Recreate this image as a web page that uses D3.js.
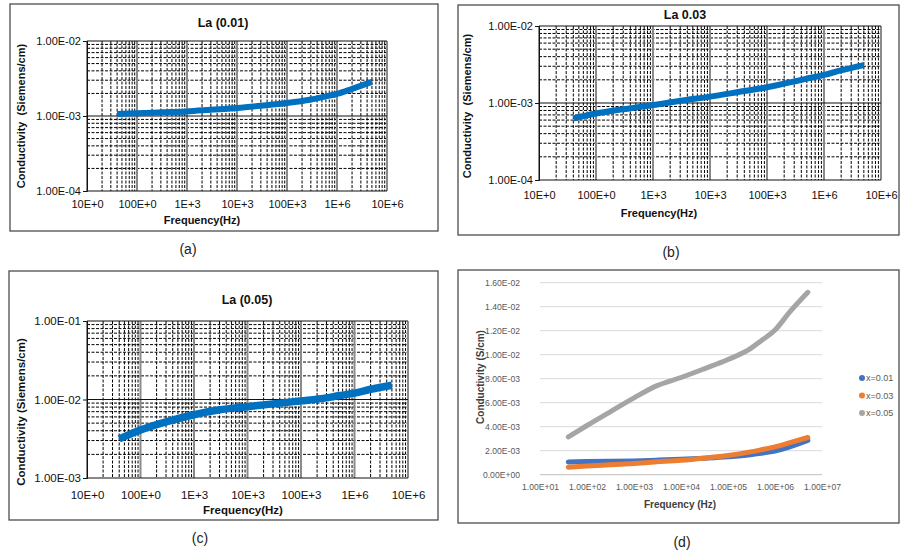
<!DOCTYPE html>
<html>
<head>
<meta charset="utf-8">
<script src="https://cdn.jsdelivr.net/npm/d3@7"></script>
<style>
  body { margin: 0; background: #fff; }
  text { font-family: "Liberation Sans", Arial, sans-serif; }
</style>
</head>
<body>
<div id="chart"></div>
<script>
// frequency points (Hz)
const freq = [40, 100, 300, 1e3, 3e3, 1e4, 3e4, 1e5, 3e5, 5e5, 1e6, 2e6, 5e6];
// conductivity (S/cm) for each La content
const sigma001 = [1.06e-3, 1.09e-3, 1.12e-3, 1.15e-3, 1.21e-3, 1.28e-3, 1.37e-3, 1.49e-3, 1.66e-3, 1.78e-3, 1.97e-3, 2.3e-3, 2.85e-3];
const sigma003 = [6.3e-4, 7.3e-4, 8.3e-4, 9.4e-4, 1.07e-3, 1.21e-3, 1.38e-3, 1.6e-3, 1.9e-3, 2.07e-3, 2.32e-3, 2.65e-3, 3.1e-3];
const sigma005 = [3.15e-3, 4.1e-3, 5.2e-3, 6.4e-3, 7.4e-3, 8.1e-3, 8.8e-3, 9.6e-3, 10.5e-3, 11.15e-3, 12.05e-3, 13.5e-3, 15.2e-3];

const logXTicks = [1e1, 1e2, 1e3, 1e4, 1e5, 1e6, 1e7];
const logXLabels = ['10E+0', '100E+0', '1E+3', '10E+3', '100E+3', '1E+6', '10E+6'];
const dXLabels = ['1.00E+01', '1.00E+02', '1.00E+03', '1.00E+04', '1.00E+05', '1.00E+06', '1.00E+07'];
const dYTicks = [0, 0.002, 0.004, 0.006, 0.008, 0.010, 0.012, 0.014, 0.016];
const legendLabels = ['x=0.01', 'x=0.03', 'x=0.05'];
const dColors = ['#4472C4', '#ED7D31', '#A5A5A5'];

const svg = d3.select('#chart').append('svg')
    .attr('width', 900)
    .attr('height', 553);

// E-notation like Excel: 1.00E-02
function sci(d) {
    let [m, e] = d.toExponential(2).toUpperCase().split('E');
    let sign = e[0] === '-' ? '-' : '+';
    let n = Math.abs(+e);
    return m + 'E' + sign + (n < 10 ? '0' + n : n);
}

function isDecade(d) {
    let l = Math.log10(d);
    return Math.abs(l - Math.round(l)) < 1e-9;
}

// panel frames
const frames = [
    {x: 10, y: 4, w: 428, h: 227, label: '(a)', lx: 188, ly: 249},
    {x: 458, y: 5, w: 441, h: 230, label: '(b)', lx: 671, ly: 252},
    {x: 9, y: 271, w: 429, h: 249, label: '(c)', lx: 200, ly: 538},
    {x: 458, y: 270, w: 441, h: 253, label: '(d)', lx: 682, ly: 542}
];
frames.forEach(f => {
    svg.append('rect')
        .attr('x', f.x).attr('y', f.y)
        .attr('width', f.w).attr('height', f.h)
        .attr('fill', 'none')
        .attr('stroke', '#4d4d4d')
        .attr('stroke-width', 1.3);
    svg.append('text')
        .attr('x', f.lx).attr('y', f.ly)
        .attr('text-anchor', 'middle')
        .attr('dominant-baseline', 'central')
        .attr('font-size', 14)
        .attr('fill', '#222')
        .text(f.label);
});

function logPanel(p) {
    const x = d3.scaleLog().domain([10, 1e7]).range([p.x0, p.x1]);
    const y = d3.scaleLog().domain(p.yDomain).range([p.y1, p.y0]);
    const g = svg.append('g');

    const xt = x.ticks();
    const yt = y.ticks();

    // minor grid
    g.selectAll('.vmin').data(xt.filter(d => !isDecade(d))).join('line')
        .attr('x1', d => x(d)).attr('x2', d => x(d))
        .attr('y1', p.y0).attr('y2', p.y1)
        .attr('stroke', '#000').attr('stroke-width', 1)
        .attr('stroke-dasharray', '3,1.5');
    g.selectAll('.hmin').data(yt.filter(d => !isDecade(d))).join('line')
        .attr('x1', p.x0).attr('x2', p.x1)
        .attr('y1', d => y(d)).attr('y2', d => y(d))
        .attr('stroke', '#000').attr('stroke-width', 1)
        .attr('stroke-dasharray', '3,1.5');
    // major grid
    g.selectAll('.vmaj').data(xt.filter(isDecade)).join('line')
        .attr('x1', d => x(d)).attr('x2', d => x(d))
        .attr('y1', p.y0).attr('y2', p.y1)
        .attr('stroke', '#8a8a8a').attr('stroke-width', 2);
    g.selectAll('.hmaj').data(yt.filter(isDecade)).join('line')
        .attr('x1', p.x0).attr('x2', p.x1)
        .attr('y1', d => y(d)).attr('y2', d => y(d))
        .attr('stroke', '#111').attr('stroke-width', 1.2);

    // y axis
    const ya = g.append('g')
        .attr('transform', `translate(${p.x0},0)`)
        .call(d3.axisLeft(y).tickValues(yt.filter(isDecade)).tickFormat(sci).tickSize(4).tickPadding(2));
    ya.select('.domain').attr('stroke', '#111');
    ya.selectAll('line').attr('stroke', '#111');
    ya.selectAll('text').attr('font-size', p.fs).attr('fill', '#111')
        .attr('font-family', '"Liberation Sans", Arial, sans-serif');

    // x labels
    const xa = g.append('g')
        .attr('transform', `translate(0,${p.labelY})`)
        .call(d3.axisBottom(x).tickValues(logXTicks).tickFormat((d, i) => logXLabels[i]).tickSize(0));
    xa.select('.domain').remove();
    xa.selectAll('text').attr('y', 0).attr('dy', '0.35em')
        .attr('font-size', p.fs).attr('fill', '#111')
        .attr('font-family', '"Liberation Sans", Arial, sans-serif');

    // curve
    const line = d3.line()
        .x((d, i) => x(freq[i]))
        .y(d => y(d))
        .curve(d3.curveMonotoneX);
    g.append('path')
        .datum(p.values)
        .attr('d', line)
        .attr('fill', 'none')
        .attr('stroke', '#0070C0')
        .attr('stroke-width', p.lw);

    // titles
    g.append('text')
        .attr('x', p.title[1]).attr('y', p.title[2])
        .attr('text-anchor', 'middle').attr('dominant-baseline', 'central')
        .attr('font-size', 12.5).attr('font-weight', 'bold').attr('fill', '#111')
        .text(p.title[0]);
    g.append('text')
        .attr('x', p.xTitle[0]).attr('y', p.xTitle[1])
        .attr('text-anchor', 'middle').attr('dominant-baseline', 'central')
        .attr('font-size', p.fs).attr('font-weight', 'bold').attr('fill', '#111')
        .text('Frequency(Hz)');
    g.append('text')
        .attr('transform', `translate(${p.yTitle[0]},${p.yTitle[1]}) rotate(-90)`)
        .attr('text-anchor', 'middle').attr('dominant-baseline', 'central')
        .attr('font-size', p.fs).attr('font-weight', 'bold').attr('fill', '#111')
        .style('white-space', 'pre')
        .text(p.yText);
}

logPanel({
    x0: 87, x1: 387, y0: 41, y1: 191, yDomain: [1e-4, 1e-2],
    values: sigma001, lw: 6, fs: 11, labelY: 204,
    title: ['La (0.01)', 223, 23], xTitle: [202, 220], yTitle: [21, 116],
    yText: 'Conductivity  (Siemens/cm)'
});
logPanel({
    x0: 539, x1: 881, y0: 26, y1: 180, yDomain: [1e-4, 1e-2],
    values: sigma003, lw: 6, fs: 11, labelY: 195,
    title: ['La 0.03', 685, 15], xTitle: [659, 213], yTitle: [467, 106],
    yText: 'Conductivity  (Siemens/cm)'
});
logPanel({
    x0: 87, x1: 408, y0: 321, y1: 478, yDomain: [1e-3, 1e-1],
    values: sigma005, lw: 7.5, fs: 11.5, labelY: 495,
    title: ['La (0.05)', 247, 300], xTitle: [243, 510], yTitle: [21, 412],
    yText: 'Conductivity (Siemens/cm)'
});

// panel (d): all three compositions, linear conductivity
const dx = d3.scaleLog().domain([10, 1e7]).range([540, 822]);
const dy = d3.scaleLinear().domain([0, 0.016]).range([474.7, 282.7]);
const gd = svg.append('g');

gd.selectAll('.grid').data(dYTicks).join('line')
    .attr('x1', 540).attr('x2', 822)
    .attr('y1', d => dy(d)).attr('y2', d => dy(d))
    .attr('stroke', d => d === 0 ? '#bfbfbf' : '#d9d9d9')
    .attr('stroke-width', 1);

const dya = gd.append('g')
    .attr('transform', 'translate(540,0)')
    .call(d3.axisLeft(dy).tickValues(dYTicks).tickFormat(sci).tickSize(0).tickPadding(20));
dya.select('.domain').remove();
dya.selectAll('text').attr('font-size', 8.6).attr('fill', '#595959')
    .attr('font-family', '"Open Sans", sans-serif');

const dxa = gd.append('g')
    .attr('transform', 'translate(0,487)')
    .call(d3.axisBottom(dx).tickValues(logXTicks).tickFormat((d, i) => dXLabels[i]).tickSize(0));
dxa.select('.domain').remove();
dxa.selectAll('text').attr('y', 0).attr('dy', '0.35em')
    .attr('font-size', 8.6).attr('fill', '#595959')
    .attr('font-family', '"Open Sans", sans-serif');

const dLine = d3.line()
    .x((d, i) => dx(freq[i]))
    .y(d => dy(d))
    .curve(d3.curveMonotoneX);

[sigma001, sigma003, sigma005].forEach((s, k) => {
    gd.append('path')
        .datum(s)
        .attr('d', dLine)
        .attr('fill', 'none')
        .attr('stroke', dColors[k])
        .attr('stroke-width', 5)
        .attr('stroke-linecap', 'round');
});

gd.append('text')
    .attr('x', 680).attr('y', 504)
    .attr('text-anchor', 'middle').attr('dominant-baseline', 'central')
    .attr('font-family', '"Open Sans", sans-serif')
    .attr('font-size', 10).attr('font-weight', 'bold').attr('fill', '#404040')
    .text('Frequency (Hz)');
gd.append('text')
    .attr('transform', 'translate(480,377) rotate(-90)')
    .attr('text-anchor', 'middle').attr('dominant-baseline', 'central')
    .attr('font-family', '"Open Sans", sans-serif')
    .attr('font-size', 10).attr('font-weight', 'bold').attr('fill', '#404040')
    .text('Conductivity (S/cm)');

// legend
const leg = gd.selectAll('.leg').data(legendLabels).join('g')
    .attr('transform', (d, i) => `translate(862,${378 + i * 17.5})`);
leg.append('circle').attr('r', 3).attr('fill', (d, i) => dColors[i]);
leg.append('text')
    .attr('x', 4).attr('dominant-baseline', 'central')
    .attr('font-family', '"Open Sans", sans-serif')
    .attr('font-size', 9).attr('fill', '#595959')
    .text(d => d);
</script>
</body>
</html>
